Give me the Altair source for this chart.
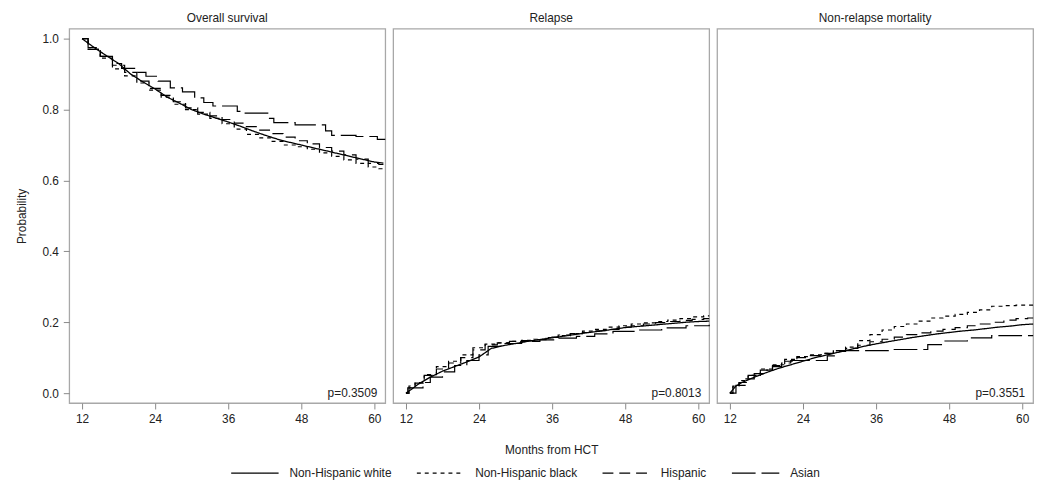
import altair as alt
import pandas as pd

groups = ["Non-Hispanic white", "Non-Hispanic black", "Hispanic", "Asian"]
panels = ["Overall survival", "Relapse", "Non-relapse mortality"]
pvalues = ["p=0.3509", "p=0.8013", "p=0.3551"]
dashes = [[1, 0], [4, 4], [11, 6], [24, 6]]
x_ticks = [12, 24, 36, 48, 60]
y_ticks = [0.0, 0.2, 0.4, 0.6, 0.8, 1.0]

# month grids
m_os = [12, 14, 16, 18, 20, 22, 24, 26, 28, 30, 32, 34, 36, 38, 40, 42, 44, 46, 48,
        50, 52, 54, 56, 58, 60, 61.5]
m_ci = [12, 13, 14, 16, 18, 20, 22, 24, 26, 28, 30, 32, 34, 36, 38, 40, 42, 44, 46, 48,
        50, 52, 54, 56, 58, 60, 61.8]

# Overall survival
os_white = [1.0, 0.975, 0.952, 0.93, 0.90, 0.878, 0.858, 0.835, 0.818, 0.80, 0.787, 0.776,
            0.765, 0.753, 0.74, 0.728, 0.717, 0.708, 0.70, 0.692, 0.684, 0.676, 0.668, 0.66,
            0.652, 0.649]
os_black = [1.0, 0.97, 0.945, 0.915, 0.895, 0.875, 0.855, 0.835, 0.815, 0.80, 0.787, 0.775,
            0.76, 0.745, 0.73, 0.72, 0.71, 0.70, 0.695, 0.688, 0.678, 0.668, 0.658, 0.648,
            0.638, 0.633]
os_hisp = [1.0, 0.97, 0.95, 0.925, 0.905, 0.88, 0.86, 0.84, 0.822, 0.805, 0.792, 0.782,
           0.772, 0.762, 0.752, 0.742, 0.732, 0.722, 0.712, 0.703, 0.693, 0.683, 0.672, 0.66,
           0.648, 0.645]
os_asian_m = [12, 13, 15, 17, 18.5, 21, 22.5, 24.5, 26.5, 28.5, 30.5, 32, 33.5, 37.5, 38.5,
              42.5, 43.5, 47, 52, 53, 57, 60.5, 61.8]
os_asian = [1.0, 0.975, 0.95, 0.93, 0.916, 0.905, 0.894, 0.88, 0.861, 0.85, 0.833, 0.82, 0.81,
            0.795, 0.79, 0.775, 0.763, 0.757, 0.74, 0.727, 0.724, 0.716, 0.716]

# Relapse
rel_white = [0.0, 0.012, 0.025, 0.045, 0.062, 0.075, 0.088, 0.102, 0.126, 0.134, 0.14, 0.146,
             0.151, 0.156, 0.161, 0.166, 0.171, 0.175, 0.18, 0.185, 0.188, 0.191, 0.194, 0.197,
             0.2, 0.202, 0.203]
rel_black = [0.0, 0.02, 0.03, 0.052, 0.075, 0.09, 0.108, 0.128, 0.138, 0.142, 0.146, 0.149,
             0.152, 0.157, 0.162, 0.168, 0.175, 0.18, 0.186, 0.19, 0.195, 0.198, 0.202, 0.206,
             0.21, 0.215, 0.218]
rel_hisp = [0.0, 0.015, 0.028, 0.05, 0.068, 0.085, 0.1, 0.122, 0.136, 0.142, 0.146, 0.148,
            0.151, 0.158, 0.164, 0.168, 0.171, 0.176, 0.18, 0.186, 0.19, 0.195, 0.199, 0.202,
            0.205, 0.208, 0.21]
rel_asian_m = [12, 12.3, 14.8, 16, 18, 20, 22, 24, 25.5, 28, 31, 34, 37, 40, 43, 46, 50, 54,
               58, 61.8]
rel_asian = [0.0, 0.015, 0.03, 0.045, 0.06, 0.078, 0.092, 0.108, 0.132, 0.14, 0.146, 0.15,
             0.155, 0.16, 0.167, 0.174, 0.178, 0.184, 0.19, 0.193]

# Non-relapse mortality
nrm_white = [0.0, 0.02, 0.03, 0.045, 0.058, 0.07, 0.08, 0.09, 0.1, 0.108, 0.116, 0.124, 0.132,
             0.139, 0.145, 0.151, 0.157, 0.162, 0.167, 0.171, 0.175, 0.178, 0.182, 0.186,
             0.189, 0.193, 0.195]
nrm_black = [0.0, 0.02, 0.035, 0.05, 0.068, 0.08, 0.095, 0.103, 0.108, 0.112, 0.12, 0.13,
             0.148, 0.165, 0.178, 0.188, 0.195, 0.203, 0.212, 0.217, 0.222, 0.228, 0.235,
             0.245, 0.247, 0.248, 0.248]
nrm_hisp = [0.0, 0.018, 0.03, 0.05, 0.065, 0.078, 0.09, 0.1, 0.106, 0.112, 0.118, 0.126,
            0.135, 0.145, 0.152, 0.158, 0.165, 0.17, 0.175, 0.18, 0.185, 0.19, 0.195, 0.2,
            0.206, 0.21, 0.212]
nrm_asian_m = [12, 13, 14.5, 16, 17.5, 19, 20.5, 22, 28, 29.5, 38, 44.5, 47, 51, 55, 61.8]
nrm_asian = [0.0, 0.022, 0.04, 0.055, 0.065, 0.075, 0.085, 0.092, 0.105, 0.12, 0.123, 0.137,
             0.147, 0.156, 0.162, 0.162]

series = [
    (panels[0], groups[0], m_os, os_white),
    (panels[0], groups[1], m_os, os_black),
    (panels[0], groups[2], m_os, os_hisp),
    (panels[0], groups[3], os_asian_m, os_asian),
    (panels[1], groups[0], m_ci, rel_white),
    (panels[1], groups[1], m_ci, rel_black),
    (panels[1], groups[2], m_ci, rel_hisp),
    (panels[1], groups[3], rel_asian_m, rel_asian),
    (panels[2], groups[0], m_ci, nrm_white),
    (panels[2], groups[1], m_ci, nrm_black),
    (panels[2], groups[2], m_ci, nrm_hisp),
    (panels[2], groups[3], nrm_asian_m, nrm_asian),
]
rows = []
for panel, grp, ms, ps in series:
    for m, p in zip(ms, ps):
        rows.append({"panel": panel, "group": grp, "month": m, "prob": p})
df = pd.DataFrame(rows)

W, H = 320, 379
FONT = "Liberation Sans"
x_scale = alt.Scale(domain=[9.9, 61.8], nice=False, zero=False)
y_scale = alt.Scale(domain=[-0.028, 1.028], nice=False, zero=False)
dash_scale = alt.Scale(domain=groups, range=dashes)


def panel_chart(i):
    base = alt.Chart(df).transform_filter(alt.datum.panel == panels[i])
    x_axis = alt.Axis(values=x_ticks, title="Months from HCT" if i == 1 else None,
                      titlePadding=20)
    if i == 0:
        y_enc = alt.Y("prob:Q", scale=y_scale,
                      axis=alt.Axis(values=y_ticks, format=".1f", title="Probability",
                                    titlePadding=14))
    else:
        y_enc = alt.Y("prob:Q", scale=y_scale, axis=None)
    legend = alt.Legend(title=None, orient="none", direction="horizontal",
                        legendX=163, legendY=425)
    enc = dict(
        x=alt.X("month:Q", scale=x_scale, axis=x_axis),
        y=y_enc,
        strokeDash=alt.StrokeDash("group:N", scale=dash_scale, sort=groups, legend=legend),
        detail="group:N",
    )
    smooth = base.transform_filter(alt.datum.group == groups[0]).mark_line(
        interpolate="linear", color="black", strokeWidth=1.3).encode(**enc)
    mid = base.transform_filter(
        (alt.datum.group == groups[1]) | (alt.datum.group == groups[2])
    ).mark_line(interpolate="step", color="black", strokeWidth=1.2).encode(**enc)
    stepped = base.transform_filter(alt.datum.group == groups[3]).mark_line(
        interpolate="step-after", color="black", strokeWidth=1.2).encode(**enc)
    ptext = alt.Chart(pd.DataFrame({"label": [pvalues[i]]})).mark_text(
        align="right", baseline="bottom", fontSize=12, font=FONT, color="#222"
    ).encode(text="label:N", x=alt.value(W - 8), y=alt.value(H - 3))
    return alt.layer(smooth, mid, stepped, ptext).properties(
        width=W, height=H,
        title=alt.TitleParams(panels[i], fontSize=12, font=FONT, fontWeight="normal",
                              color="#222", offset=4),
    )


chart = alt.hconcat(panel_chart(0), panel_chart(1), panel_chart(2), spacing=3).properties(
    padding={"left": 6, "top": 0, "right": 5, "bottom": 5}
).configure_view(
    stroke="#a8a8a8", strokeWidth=1.3
).configure_axis(
    domain=False, grid=False, tickColor="#888", tickSize=6, labelPadding=5,
    labelFont=FONT, labelFontSize=12, labelColor="#222",
    titleFont=FONT, titleFontSize=12, titleFontWeight="normal", titleColor="#222",
).configure_legend(
    symbolType="stroke", symbolSize=2304, symbolStrokeWidth=1.3, symbolStrokeColor="black",
    labelFont=FONT, labelFontSize=12, labelColor="#222", labelOffset=10, columnPadding=22,
)

chart.save("out.html", embed_options={"renderer": "svg", "actions": False})
